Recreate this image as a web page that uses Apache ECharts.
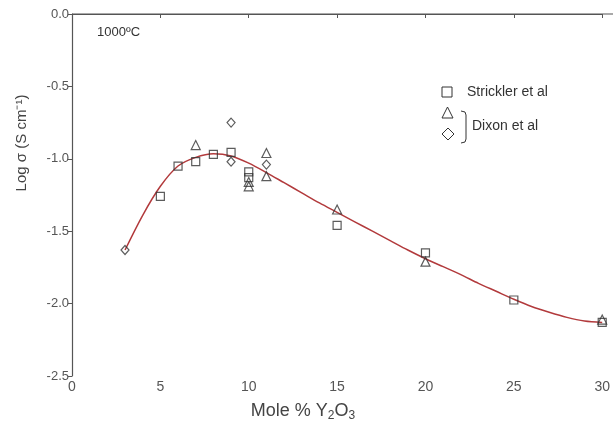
<!DOCTYPE html>
<html>
<head>
<meta charset="utf-8">
<script src="https://cdn.jsdelivr.net/npm/echarts@6/dist/echarts.min.js"></script>
<style>
  html, body { margin: 0; padding: 0; background: #fff; }
  #chart { width: 613px; height: 426px; }
</style>
</head>
<body>
<div id="chart"></div>
<script>
// Strickler et al (squares)
var stricklerX = [5, 6, 7, 8, 9, 10, 10, 15, 20, 25, 30];
var stricklerY = [-1.26, -1.05, -1.02, -0.97, -0.955, -1.09, -1.13, -1.46, -1.65, -1.975, -2.13];
// Dixon et al (triangles)
var dixonTriX = [7, 10, 10, 11, 11, 15, 20, 30];
var dixonTriY = [-0.905, -1.16, -1.19, -0.96, -1.12, -1.35, -1.71, -2.11];
// Dixon et al (diamonds)
var dixonDiaX = [3, 9, 9, 11];
var dixonDiaY = [-1.63, -0.75, -1.02, -1.04];
// fitted curve
var curveX = [3, 4, 5, 6, 7, 8, 9, 10, 11, 12, 13, 14, 15, 16, 17, 18, 19, 20, 21, 22, 23, 24, 25, 26, 27, 28, 29, 30];
var curveY = [-1.63, -1.39, -1.19, -1.05, -0.99, -0.965, -0.98, -1.03, -1.095, -1.165, -1.235, -1.305, -1.37, -1.435, -1.50, -1.565, -1.63, -1.69, -1.745, -1.80, -1.86, -1.915, -1.97, -2.02, -2.06, -2.095, -2.12, -2.13];
var xTicks = [0, 5, 10, 15, 20, 25, 30];
var yTicks = [0, -0.5, -1, -1.5, -2, -2.5];

function pairs(xs, ys) {
  return xs.map(function (x, i) { return [x, ys[i]]; });
}

var font = 'Liberation Sans, Arial, sans-serif';
var chart = echarts.init(document.getElementById('chart'));

var markStyle = { color: 'rgba(0,0,0,0)', borderColor: '#333', borderWidth: 1.2 };

chart.setOption({
  animation: false,
  grid: { left: 72, right: 10, top: 14, bottom: 50 },
  xAxis: {
    type: 'value',
    min: 0,
    max: 30,
    interval: 5,
    axisLine: { lineStyle: { color: '#555', width: 1.2 } },
    axisTick: { length: 4, lineStyle: { color: '#555' } },
    axisLabel: { color: '#555', fontSize: 14, fontFamily: font, margin: 4,
      formatter: function (v) { return xTicks.indexOf(v) >= 0 ? String(v) : ''; } },
    splitLine: { show: false }
  },
  yAxis: {
    type: 'value',
    min: -2.5,
    max: 0,
    interval: 0.5,
    axisLine: { show: true, onZero: false, lineStyle: { color: '#555', width: 1.2 } },
    axisTick: { show: true, length: 4, lineStyle: { color: '#555' } },
    axisLabel: { color: '#555', fontSize: 13, fontFamily: font, margin: 3,
      formatter: function (v) { return yTicks.indexOf(v) >= 0 ? v.toFixed(1) : ''; } },
    splitLine: { show: false }
  },
  graphic: [
    // top frame line
    { type: 'line', shape: { x1: 72, y1: 14, x2: 613, y2: 14 },
      style: { stroke: '#555', lineWidth: 1.2 } },
    { type: 'text', left: 97, top: 26,
      style: { text: '1000ºC', fontSize: 13, fontFamily: font, fill: '#333' } },
    { type: 'text', x: 22, y: 143, rotation: Math.PI / 2, originX: 0, originY: 0,
      style: { text: 'Log σ (S cm⁻¹)', fontSize: 15, fontFamily: font, fill: '#444',
        align: 'center', verticalAlign: 'middle' } },
    { type: 'text', x: 303, y: 411,
      style: { text: '{n|Mole % Y}{s|2}{n|O}{s|3}', fontFamily: font, fill: '#444',
        align: 'center', verticalAlign: 'middle',
        rich: {
          n: { fontSize: 18, fontFamily: font, fill: '#444' },
          s: { fontSize: 12, fontFamily: font, fill: '#444', padding: [9, 0, 0, 0] }
        } } },
    // legend
    { type: 'rect', shape: { x: 442, y: 87, width: 10, height: 10 },
      style: { fill: 'none', stroke: '#333', lineWidth: 1 } },
    { type: 'text', x: 467, y: 92,
      style: { text: 'Strickler et al', fontSize: 14, fontFamily: font, fill: '#333', verticalAlign: 'middle' } },
    { type: 'polygon', shape: { points: [[447.5, 107], [442, 118], [453, 118]] },
      style: { fill: 'none', stroke: '#333', lineWidth: 1 } },
    { type: 'polygon', shape: { points: [[448, 128], [454, 134], [448, 140], [442, 134]] },
      style: { fill: 'none', stroke: '#333', lineWidth: 1 } },
    { type: 'polyline', shape: { points: [[461, 111], [465, 112], [466, 115], [466, 139], [465, 142], [461, 143]] },
      style: { fill: 'none', stroke: '#333', lineWidth: 1 } },
    { type: 'text', x: 472, y: 126,
      style: { text: 'Dixon et al', fontSize: 14, fontFamily: font, fill: '#333', verticalAlign: 'middle' } }
  ],
  series: [
    {
      name: 'fit',
      type: 'line',
      smooth: 0.3,
      symbol: 'none',
      data: pairs(curveX, curveY),
      lineStyle: { color: '#b23a3c', width: 1.5 },
      z: 1
    },
    {
      name: 'Strickler et al',
      type: 'scatter',
      symbol: 'rect',
      symbolSize: 8,
      data: pairs(stricklerX, stricklerY),
      itemStyle: markStyle,
      z: 3
    },
    {
      name: 'Dixon et al (tri)',
      type: 'scatter',
      symbol: 'triangle',
      symbolSize: 9,
      data: pairs(dixonTriX, dixonTriY),
      itemStyle: markStyle,
      z: 3
    },
    {
      name: 'Dixon et al (dia)',
      type: 'scatter',
      symbol: 'diamond',
      symbolSize: [8, 9],
      data: pairs(dixonDiaX, dixonDiaY),
      itemStyle: markStyle,
      z: 3
    }
  ]
});
</script>
</body>
</html>
